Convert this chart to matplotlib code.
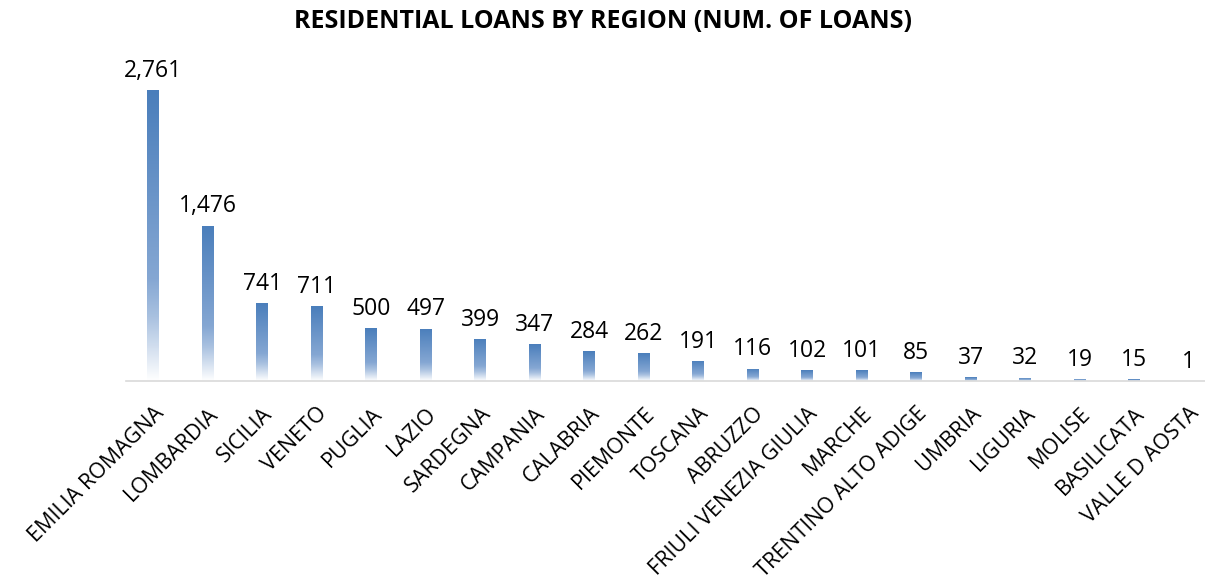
import numpy as np
import matplotlib
matplotlib.use("Agg")
import matplotlib.pyplot as plt
from matplotlib.colors import LinearSegmentedColormap

# Residential loans per region (number of loans)
regions = ["EMILIA ROMAGNA", "LOMBARDIA", "SICILIA", "VENETO", "PUGLIA", "LAZIO",
           "SARDEGNA", "CAMPANIA", "CALABRIA", "PIEMONTE", "TOSCANA", "ABRUZZO",
           "FRIULI VENEZIA GIULIA", "MARCHE", "TRENTINO ALTO ADIGE", "UMBRIA",
           "LIGURIA", "MOLISE", "BASILICATA", "VALLE D AOSTA"]
loans = [2761, 1476, 741, 711, 500, 497, 399, 347, 284, 262, 191, 116,
         102, 101, 85, 37, 32, 19, 15, 1]

plt.rcParams['font.family'] = ['Open Sans', 'DejaVu Sans']

fig = plt.figure(figsize=(12.05, 5.82), dpi=100)
W, H = 1205, 582
# axes placed in pixel terms: baseline at y=381, left edge x=126
ax = fig.add_axes([126 / W, (H - 381) / H, 1090 / W, 316 / H])

x = np.arange(len(regions))
bars = ax.bar(x, loans, width=0.22, color='none', edgecolor='none')

# vertical gradient: solid blue at the top fading to white at the base
cmap = LinearSegmentedColormap.from_list(
    "fade", [(0.0, "#ffffff"), (0.22, "#a9c1e0"), (0.35, "#85a7d3"), (1.0, "#4a7ebb")])
grad = np.linspace(0, 1, 256).reshape(-1, 1)
for b in bars:
    x0, w, h = b.get_x(), b.get_width(), b.get_height()
    im = ax.imshow(grad, cmap=cmap, origin='lower', aspect='auto',
                   extent=(x0, x0 + w, 0, h), zorder=2)
    im.set_clip_path(b)

for xi, v in zip(x, loans):
    ax.text(xi, v + 70, f"{v:,}", ha='center', va='bottom', fontsize=16.5)

ax.set_xlim(-0.5, len(regions) - 0.5)
ax.set_ylim(0, 3000)
ax.set_xticks(x)
ax.set_xticklabels(regions, rotation=45, ha='right', rotation_mode='anchor', fontsize=15.5)
ax.tick_params(axis='x', length=0, pad=16)
ax.set_yticks([])
for s in ['top', 'right', 'left']:
    ax.spines[s].set_visible(False)
ax.spines['bottom'].set_color('#d9d9d9')
ax.spines['bottom'].set_linewidth(1.2)

fig.text(0.5, 1 - 22 / H, "RESIDENTIAL LOANS BY REGION (NUM. OF LOANS)",
         ha='center', va='center', fontsize=18, fontweight='bold')

fig.savefig("out.png", dpi=100)
